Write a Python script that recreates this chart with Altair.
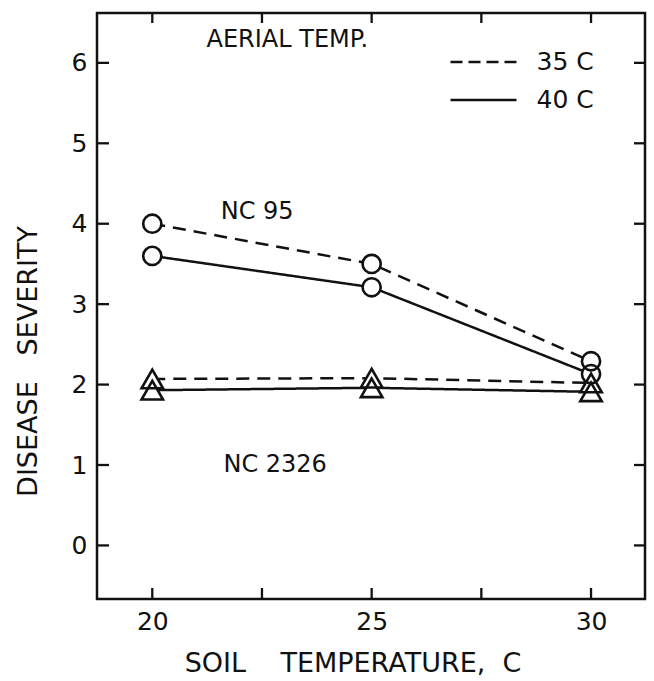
import altair as alt
import pandas as pd

# ---- data ----
soil_temp = [20, 25, 30]
nc95_35 = [4.0, 3.5, 2.29]
nc95_40 = [3.6, 3.21, 2.13]
nc2326_35 = [2.07, 2.08, 2.02]
nc2326_40 = [1.93, 1.96, 1.91]
cultivars = ["NC 95", "NC 2326"]
aerial = ["35 C", "40 C"]
x_tick_vals = [20, 22.5, 25, 27.5, 30]
x_label_vals = [20, 25, 30]
y_tick_vals = [0, 1, 2, 3, 4, 5, 6]

rows = []
for cult, aer, vals in [
    ("NC 95", "35 C", nc95_35),
    ("NC 95", "40 C", nc95_40),
    ("NC 2326", "35 C", nc2326_35),
    ("NC 2326", "40 C", nc2326_40),
]:
    for t, v in zip(soil_temp, vals):
        rows.append({"soil": t, "sev": v, "cultivar": cult, "aerial": aer})
df = pd.DataFrame(rows)

FONT = "DejaVu Sans"
INK = "#111111"
W, H = 548, 586
NB = "\u00a0"

xs = alt.Scale(domain=[18.74, 31.23], nice=False, zero=False)
ys = alt.Scale(domain=[-0.666, 6.62], nice=False, zero=False)

dash_scale = alt.Scale(domain=aerial, range=[[13, 8], [1, 0]])
shape_scale = alt.Scale(domain=cultivars, range=["circle", "triangle-up"])
size_scale = alt.Scale(domain=cultivars, range=[330, 460])

x_axis = alt.Axis(
    values=x_label_vals, format="d", ticks=False, domain=False, grid=False,
    labelFontSize=25, labelPadding=10, labelFont=FONT, labelColor=INK,
    title="SOIL" + NB * 3 + " TEMPERATURE," + NB + " C", titleFont=FONT, titleFontSize=27,
    titleFontWeight="normal", titleColor=INK,
    titleX=255.5, titleY=64, titleAlign="center", titleBaseline="middle",
)
y_axis = alt.Axis(
    values=y_tick_vals, format="d", ticks=False, domain=False, grid=False,
    labelFontSize=25, labelPadding=10, labelFont=FONT, labelColor=INK,
    title="DISEASE" + NB * 2 + " SEVERITY", titleFont=FONT, titleFontSize=27,
    titleFontWeight="normal", titleColor=INK, titleAngle=270,
    titleX=-69, titleY=348, titleAlign="center", titleBaseline="middle",
)

base = alt.Chart(df)
X = alt.X("soil:Q", scale=xs, axis=x_axis)
Y = alt.Y("sev:Q", scale=ys, axis=y_axis)

lines = base.mark_line(color=INK, strokeWidth=2.5).encode(
    x=X, y=Y,
    strokeDash=alt.StrokeDash("aerial:N", scale=dash_scale, legend=None),
    detail="cultivar:N",
)

mask = base.mark_point(filled=True, fill="white", opacity=1, strokeWidth=0).encode(
    x=X, y=Y,
    shape=alt.Shape("cultivar:N", scale=shape_scale, legend=None),
    size=alt.Size("cultivar:N", scale=size_scale, legend=None),
)

points = base.mark_point(filled=False, color=INK, strokeWidth=2.6, opacity=1).encode(
    x=X, y=Y,
    shape=alt.Shape("cultivar:N", scale=shape_scale, legend=None),
    size=alt.Size("cultivar:N", scale=size_scale, legend=None),
)

xt = alt.Chart(pd.DataFrame({"soil": x_tick_vals}))
yt = alt.Chart(pd.DataFrame({"sev": y_tick_vals}))
tick_style = dict(color=INK, strokeWidth=2.3)
ticks_bottom = xt.mark_rule(**tick_style).encode(
    x=X, y=alt.value(H), y2=alt.value(H - 11))
ticks_top = xt.mark_rule(**tick_style).encode(
    x=X, y=alt.value(0), y2=alt.value(10))
ticks_left = yt.mark_rule(**tick_style).encode(
    y=Y, x=alt.value(0), x2=alt.value(12))
ticks_right = yt.mark_rule(**tick_style).encode(
    y=Y, x=alt.value(W), x2=alt.value(W - 11))

one = pd.DataFrame({"k": [0]})
lab_style = dict(font=FONT, color=INK, align="center", baseline="middle")

lab95 = alt.Chart(one).mark_text(fontSize=24, **lab_style).encode(
    x=alt.XDatum(22.39, scale=xs, axis=x_axis),
    y=alt.YDatum(4.15, scale=ys, axis=y_axis),
    text=alt.value("NC 95"))
lab2326 = alt.Chart(one).mark_text(fontSize=24, **lab_style).encode(
    x=alt.XDatum(22.8, scale=xs, axis=x_axis),
    y=alt.YDatum(1.0, scale=ys, axis=y_axis),
    text=alt.value("NC 2326"))

leg_title = alt.Chart(one).mark_text(fontSize=24, font=FONT, color=INK, align="left",
                                     baseline="middle").encode(
    x=alt.value(207 - 97.5), y=alt.value(40 - 13), text=alt.value("AERIAL TEMP."))
leg_dash = alt.Chart(one).mark_rule(color=INK, strokeWidth=2.4, strokeDash=[12, 6]).encode(
    x=alt.value(451 - 97.5), x2=alt.value(517 - 97.5), y=alt.value(62 - 13))
leg_solid = alt.Chart(one).mark_rule(color=INK, strokeWidth=2.4).encode(
    x=alt.value(451 - 97.5), x2=alt.value(517 - 97.5), y=alt.value(100 - 13))
leg_t1 = alt.Chart(one).mark_text(fontSize=25, font=FONT, color=INK, align="left",
                                  baseline="middle").encode(
    x=alt.value(537 - 97.5), y=alt.value(62 - 13), text=alt.value("35 C"))
leg_t2 = alt.Chart(one).mark_text(fontSize=25, font=FONT, color=INK, align="left",
                                  baseline="middle").encode(
    x=alt.value(537 - 97.5), y=alt.value(100 - 13), text=alt.value("40 C"))

chart = alt.layer(
    lines, mask, points,
    ticks_bottom, ticks_top, ticks_left, ticks_right,
    lab95, lab2326, leg_title, leg_dash, leg_solid, leg_t1, leg_t2,
).properties(
    width=W, height=H,
    padding={"left": 97, "top": 13, "right": 9, "bottom": 82},
    autosize=alt.AutoSizeParams(type="none"),
    background="white",
).configure_view(stroke=INK, strokeWidth=2.5)

chart.save("out.html", embed_options={"renderer": "svg", "actions": False})
